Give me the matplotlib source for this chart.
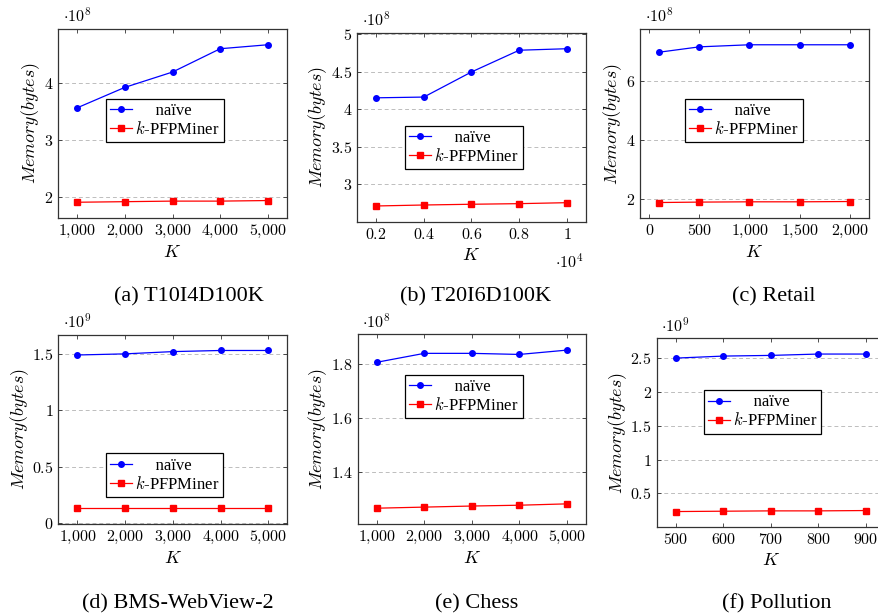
import matplotlib
matplotlib.use("Agg")
import matplotlib.pyplot as plt
from matplotlib.ticker import FixedLocator, FuncFormatter
from matplotlib.lines import Line2D

plt.rcParams['mathtext.fontset'] = 'cm'
plt.rcParams['font.family'] = ['Liberation Serif', 'DejaVu Serif']
plt.rcParams['axes.unicode_minus'] = False

# ---------------- data ----------------
series_names = ["naïve", "$k$-PFPMiner"]
captions = ["(a) T10I4D100K", "(b) T20I6D100K", "(c) Retail",
            "(d) BMS-WebView-2", "(e) Chess", "(f) Pollution"]

k_a = [1000, 2000, 3000, 4000, 5000]
naive_a = [3.56, 3.92, 4.19, 4.60, 4.67]
kpfp_a = [1.90, 1.91, 1.92, 1.92, 1.93]
yticks_a = [2, 3, 4]
xticks_a = [1000, 2000, 3000, 4000, 5000]

k_b = [0.2, 0.4, 0.6, 0.8, 1.0]          # x 10^4
naive_b = [4.155, 4.165, 4.50, 4.79, 4.81]
kpfp_b = [2.712, 2.725, 2.735, 2.743, 2.756]
yticks_b = [3, 3.5, 4, 4.5, 5]
xticks_b = [0.2, 0.4, 0.6, 0.8, 1.0]

k_c = [100, 500, 1000, 1500, 2000]
naive_c = [6.96, 7.14, 7.21, 7.21, 7.21]
kpfp_c = [1.886, 1.90, 1.91, 1.91, 1.92]
yticks_c = [2, 4, 6]
xticks_c = [0, 500, 1000, 1500, 2000]

k_d = [1000, 2000, 3000, 4000, 5000]
naive_d = [1.49, 1.50, 1.52, 1.53, 1.53]
kpfp_d = [0.133, 0.133, 0.133, 0.133, 0.133]
yticks_d = [0, 0.5, 1, 1.5]
xticks_d = [1000, 2000, 3000, 4000, 5000]

k_e = [1000, 2000, 3000, 4000, 5000]
naive_e = [1.805, 1.838, 1.838, 1.834, 1.85]
kpfp_e = [1.266, 1.270, 1.274, 1.277, 1.282]
yticks_e = [1.4, 1.6, 1.8]
xticks_e = [1000, 2000, 3000, 4000, 5000]

k_f = [500, 600, 700, 800, 900]
naive_f = [2.50, 2.53, 2.54, 2.56, 2.56]
kpfp_f = [0.232, 0.237, 0.242, 0.242, 0.247]
yticks_f = [0.5, 1, 1.5, 2, 2.5]
xticks_f = [500, 600, 700, 800, 900]

y_exp = [8, 8, 8, 9, 8, 9]
x_exp = [None, 4, None, None, None, None]

# ---------------- layout (pixels in 879x616) ----------------
W, H = 879, 616
boxes = [  # left, top, right, bottom
    (58, 29, 287, 218),
    (357, 33, 586, 221.7),
    (640.3, 29, 868.7, 218.3),
    (58.3, 334.7, 287.3, 524),
    (357.7, 334.3, 586, 524),
    (656.7, 338.3, 885, 527.3),
]
legend_boxes = [  # x0, ytop in axes fraction
    (0.21, 0.63),
    (0.21, 0.507),
    (0.197, 0.63),
    (0.207, 0.373),
    (0.208, 0.787),
    (0.206, 0.725),
]
caption_pos = [(189, 297), (476, 297), (774, 297), (178, 604), (477, 604), (777, 604)]

datasets = [
    (k_a, naive_a, kpfp_a, xticks_a, yticks_a),
    (k_b, naive_b, kpfp_b, xticks_b, yticks_b),
    (k_c, naive_c, kpfp_c, xticks_c, yticks_c),
    (k_d, naive_d, kpfp_d, xticks_d, yticks_d),
    (k_e, naive_e, kpfp_e, xticks_e, yticks_e),
    (k_f, naive_f, kpfp_f, xticks_f, yticks_f),
]


def fmt_num(v, pos=None):
    if abs(v - round(v)) < 1e-9:
        s = f"{int(round(v)):,}".replace(",", "{,}")
    else:
        s = f"{v:g}"
    return f"${s}$"


fig = plt.figure(figsize=(W / 100, H / 100), dpi=100)

MS = 4.0
for i, (xs, n, kp, xt, yt) in enumerate(datasets):
    l, t, r, b = boxes[i]
    ax = fig.add_axes([l / W, 1 - b / H, (r - l) / W, (b - t) / H])
    ax.plot(xs, n, color='#0000ff', marker='o', markersize=MS, lw=0.9,
            label=series_names[0])
    ax.plot(xs, kp, color='#ff0000', marker='s', markersize=MS, lw=0.9,
            label=series_names[1])
    # pgfplots-like enlargement of limits
    xmin, xmax = min(xs), max(xs)
    dx = 0.1 * (xmax - xmin)
    ymin, ymax = min(n + kp), max(n + kp)
    dy = 0.1 * (ymax - ymin)
    ax.set_xlim(xmin - dx, xmax + dx)
    ax.set_ylim(ymin - dy, ymax + dy)
    ax.xaxis.set_major_locator(FixedLocator(xt))
    ax.yaxis.set_major_locator(FixedLocator(yt))
    ax.xaxis.set_major_formatter(FuncFormatter(fmt_num))
    ax.yaxis.set_major_formatter(FuncFormatter(fmt_num))
    ax.tick_params(direction='in', length=3, width=0.6, labelsize=11.5,
                   top=True, right=True, colors='#333333', labelcolor='black')
    for sp in ax.spines.values():
        sp.set_linewidth(0.9)
        sp.set_color('#333333')
    ax.grid(axis='y', linestyle=(0, (4, 3)), color='#bdbdbd', lw=0.7)
    ax.set_axisbelow(True)
    ax.set_xlabel('$K$', fontsize=13, labelpad=3)
    ax.set_ylabel('$Memory(bytes)$', fontsize=13, labelpad=1)
    ax.text(0.02, 1.015, r'$\cdot 10^{%d}$' % y_exp[i], transform=ax.transAxes,
            ha='left', va='bottom', fontsize=11.5)
    if x_exp[i] is not None:
        ax.text(0.99, -0.165, r'$\cdot 10^{%d}$' % x_exp[i], transform=ax.transAxes,
                ha='right', va='top', fontsize=11.5)
    x0, ytop = legend_boxes[i]
    handles = [Line2D([], [], color='#0000ff', marker='o', markersize=MS, lw=0.9),
               Line2D([], [], color='#ff0000', marker='s', markersize=MS, lw=0.9)]
    leg = ax.legend(handles, ["     " + series_names[0], series_names[1]],
                    loc='upper left', bbox_to_anchor=(x0, ytop),
                    borderaxespad=0, fontsize=12,
                    frameon=True, fancybox=False, edgecolor='black',
                    handlelength=1.3, handletextpad=0.2, labelspacing=0.12,
                    borderpad=0.25)
    leg.get_frame().set_linewidth(0.9)
    leg.get_frame().set_alpha(1)
    cx, cy = caption_pos[i]
    fig.text(cx / W, 1 - cy / H, captions[i], ha='center', va='center',
             fontsize=16)

fig.savefig('out.png', dpi=100)
